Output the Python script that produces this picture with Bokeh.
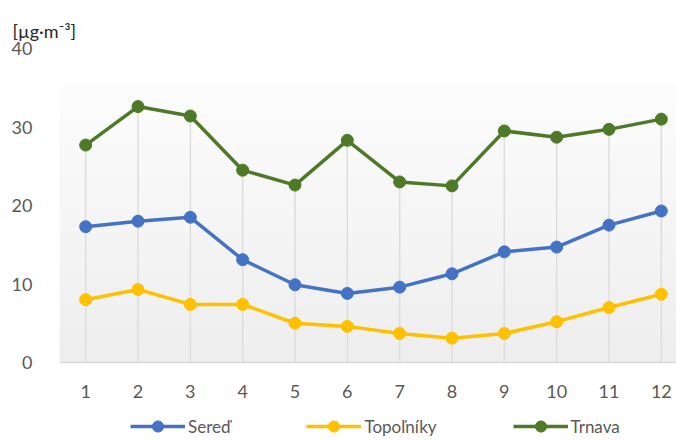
import numpy as np
from bokeh.plotting import figure
from bokeh.layouts import column
from bokeh.models import Range1d, FixedTicker, Legend, LegendItem, Title
from bokeh.embed import file_html
from bokeh.resources import INLINE

months = [1, 2, 3, 4, 5, 6, 7, 8, 9, 10, 11, 12]
tick_labels = ["1", "2", "3", "4", "5", "6", "7", "8", "9", "10", "11", "12"]
sered = [17.3, 18.0, 18.5, 13.1, 9.9, 8.8, 9.6, 11.3, 14.1, 14.7, 17.5, 19.3]
topolniky = [8.0, 9.3, 7.4, 7.4, 5.0, 4.6, 3.7, 3.1, 3.7, 5.2, 7.0, 8.7]
trnava = [27.7, 32.6, 31.4, 24.5, 22.6, 28.3, 23.0, 22.5, 29.5, 28.7, 29.7, 31.0]
y_ticks = [0, 10, 20, 30, 40]
series_names = ["Sereď", "Topoľníky", "Trnava"]
colors = ["#4472C4", "#FFC000", "#4E7A28"]

FONT = "Lato"
TICK_COLOR = "#595959"

p = figure(width=676, height=404, output_backend="svg", toolbar_location=None,
           x_range=Range1d(0.5, 12.29), y_range=Range1d(0, 40),
           min_border_left=59, min_border_right=0, min_border_top=48, min_border_bottom=42)
p.outline_line_color = None
p.background_fill_color = "white"
p.border_fill_color = "white"
p.xgrid.grid_line_color = None
p.ygrid.grid_line_color = None

# plot-area gradient background
n = 120
img = np.zeros((n, 1), dtype=np.uint32)
view = img.view(dtype=np.uint8).reshape((n, 1, 4))
t = np.linspace(0, 1, n)
c = (238 + (253 - 238) * t).astype(np.uint8)
view[:, 0, 0] = c
view[:, 0, 1] = c
view[:, 0, 2] = c
view[:, 0, 3] = 255
p.image_rgba(image=[img], x=0.5, y=0, dw=12, dh=35.5)

# drop lines
p.segment(x0=months, y0=[0] * len(months), x1=months, y1=trnava,
          line_color="#DDDDDD", line_width=1.5)

for name, vals, col in zip(series_names, [sered, topolniky, trnava], colors):
    p.line(months, vals, line_color=col, line_width=3.5)
    p.scatter(months, vals, marker="circle", size=12, fill_color=col, line_color=col)

p.xaxis.ticker = FixedTicker(ticks=months)
p.xaxis.major_label_overrides = {m: lab for m, lab in zip(months, tick_labels)}
p.xaxis.axis_line_color = "#D9D9D9"
p.xaxis.axis_line_width = 1.5
p.xaxis.major_tick_line_color = None
p.xaxis.minor_tick_line_color = None
p.xaxis.major_label_standoff = 16
p.xaxis.major_label_text_font = FONT
p.xaxis.major_label_text_font_size = "18px"
p.xaxis.major_label_text_color = TICK_COLOR

p.yaxis.ticker = FixedTicker(ticks=y_ticks)
p.yaxis.axis_line_color = None
p.yaxis.major_tick_line_color = None
p.yaxis.minor_tick_line_color = None
p.yaxis.major_label_standoff = 21
p.yaxis.major_label_text_font = FONT
p.yaxis.major_label_text_font_size = "18px"
p.yaxis.major_label_text_color = TICK_COLOR

p.title = Title(text="[µg·m⁻³]", align="left", offset=-47, standoff=14,
                text_font=FONT, text_font_size="18px", text_font_style="normal",
                text_color="#262626")

# legend strip (proxy renderers lie outside its visible range)
proxy_x = [5]
proxy_y = [5]
leg = figure(width=676, height=36, output_backend="svg", toolbar_location=None,
             x_range=Range1d(0, 1), y_range=Range1d(0, 1),
             x_axis_type=None, y_axis_type=None,
             min_border_left=0, min_border_right=0, min_border_top=0, min_border_bottom=0)
leg.outline_line_color = None
leg.xgrid.grid_line_color = None
leg.ygrid.grid_line_color = None
items = []
for name, col in zip(series_names, colors):
    l = leg.line(x=proxy_x, y=proxy_y, line_color=col, line_width=3.5)
    s = leg.scatter(x=proxy_x, y=proxy_y, marker="circle", size=12, fill_color=col, line_color=col)
    items.append(LegendItem(label=name, renderers=[l, s]))
legend = Legend(items=items, orientation="horizontal", location=(71, 0),
                glyph_width=55, glyph_height=28, label_standoff=3, spacing=76,
                border_line_color=None, background_fill_alpha=0, padding=0, margin=0,
                label_text_font=FONT, label_text_font_size="17px",
                label_text_color=TICK_COLOR)
leg.add_layout(legend)

layout = column(p, leg, spacing=0)
open("out.html", "w").write(file_html(layout, INLINE))
